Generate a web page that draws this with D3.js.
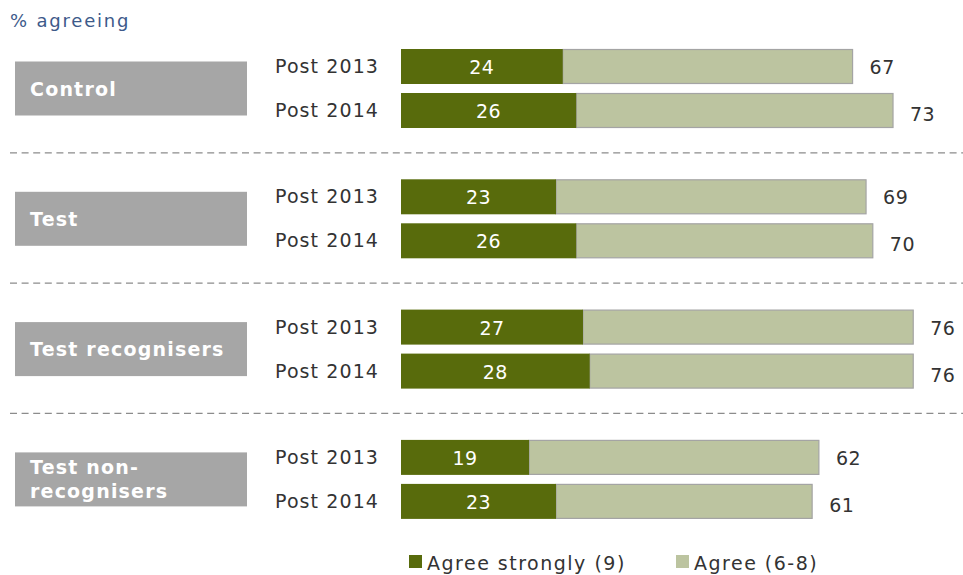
<!DOCTYPE html>
<html>
<head>
<meta charset="utf-8">
<script src="https://cdn.jsdelivr.net/npm/d3@7"></script>
<style>
  body { margin: 0; background: #fff; }
  svg text { font-family: "DejaVu Sans", sans-serif; }
</style>
</head>
<body>
<svg id="chart" width="963" height="575"></svg>
<script>
// data
const groups = ['Control', 'Test', 'Test recognisers', 'Test non-recognisers'];
const groupLines = [['Control'], ['Test'], ['Test recognisers'], ['Test non-', 'recognisers']];
const waves = ['Post 2013', 'Post 2014'];
const agreeStrongly = [[24, 26], [23, 26], [27, 28], [19, 23]];
const agreeTotal = [[67, 73], [69, 70], [76, 76], [62, 61]];
const legendLabels = ['Agree strongly (9)', 'Agree (6-8)'];

const colDark = '#586b0c', colLight = '#bcc4a0';

const svg = d3.select('#chart');

const x = d3.scaleLinear().domain([0, 100]).range([401, 401 + 674]);

const gy = d3.scaleBand().domain(groups).range([22, 22 + 130.3 * 4]).padding(0);
const iy = d3.scaleBand().domain(waves).range([27, 106]).paddingInner(9 / 44).paddingOuter(0);

// title
svg.append('text')
  .attr('x', 10).attr('y', 27)
  .attr('fill', '#3d5a8a')
  .style('font-size', '18px')
  .style('letter-spacing', '1.8px')
  .text('% agreeing');

// dashed separators
groups.slice(0, -1).forEach(gname => {
  const yy = gy(gname) + gy.bandwidth() + 0.5;
  svg.append('line')
    .attr('x1', 10).attr('x2', 963)
    .attr('y1', yy).attr('y2', yy)
    .attr('stroke', '#8c8c8c').attr('stroke-width', 1.3)
    .attr('stroke-dasharray', '7,4.6');
});

groups.forEach((gname, gi) => {
  const g = svg.append('g').attr('transform', `translate(0,${gy(gname)})`);
  const mid = iy.range()[0] + (iy.range()[1] - iy.range()[0]) / 2;

  // grey group box
  g.append('rect')
    .attr('x', 15).attr('y', mid - 27)
    .attr('width', 232).attr('height', 54)
    .attr('fill', '#a6a6a6');
  const lines = groupLines[gi];
  lines.forEach((ln, li) => {
    g.append('text')
      .attr('x', 30)
      .attr('y', mid + 7 + (li - (lines.length - 1) / 2) * 24)
      .attr('fill', '#fff')
      .style('font-size', '19px').style('font-weight', 'bold')
      .style('letter-spacing', '1.2px')
      .text(ln);
  });

  waves.forEach((w, wi) => {
    const y0 = iy(w), h = iy.bandwidth();
    const s = agreeStrongly[gi][wi], t = agreeTotal[gi][wi];

    g.append('text')
      .attr('x', 275).attr('y', y0 + h / 2 + 1)
      .attr('dominant-baseline', 'middle')
      .attr('fill', '#333')
      .style('font-size', '19px')
      .style('letter-spacing', '1.1px')
      .text(w);

    g.append('rect')
      .attr('x', x(s)).attr('y', y0 + 0.5)
      .attr('width', x(t) - x(s)).attr('height', h - 1)
      .attr('fill', colLight)
      .attr('stroke', '#a4a4a4').attr('stroke-width', 1.2);

    g.append('rect')
      .attr('x', x(0)).attr('y', y0)
      .attr('width', x(s) - x(0)).attr('height', h)
      .attr('fill', colDark);

    g.append('text')
      .attr('x', (x(0) + x(s)) / 2).attr('y', y0 + h / 2 + 2)
      .attr('text-anchor', 'middle')
      .attr('dominant-baseline', 'middle')
      .attr('fill', '#fff')
      .style('font-size', '19px')
      .style('letter-spacing', '0.5px')
      .text(s);

    g.append('text')
      .attr('x', x(t) + 17).attr('y', y0 + h / 2 + 2 + wi * 3)
      .attr('dominant-baseline', 'middle')
      .attr('fill', '#333')
      .style('font-size', '19px')
      .style('letter-spacing', '0.5px')
      .text(t);
  });
});

// legend
const legX = [409, 676];
[colDark, colLight].forEach((c, i) => {
  svg.append('rect')
    .attr('x', legX[i]).attr('y', 555)
    .attr('width', 13).attr('height', 13)
    .attr('fill', c);
  svg.append('text')
    .attr('x', legX[i] + 18).attr('y', 570)
    .attr('fill', '#333')
    .style('font-size', '19px')
    .style('letter-spacing', '1.5px')
    .text(legendLabels[i]);
});
</script>
</body>
</html>
